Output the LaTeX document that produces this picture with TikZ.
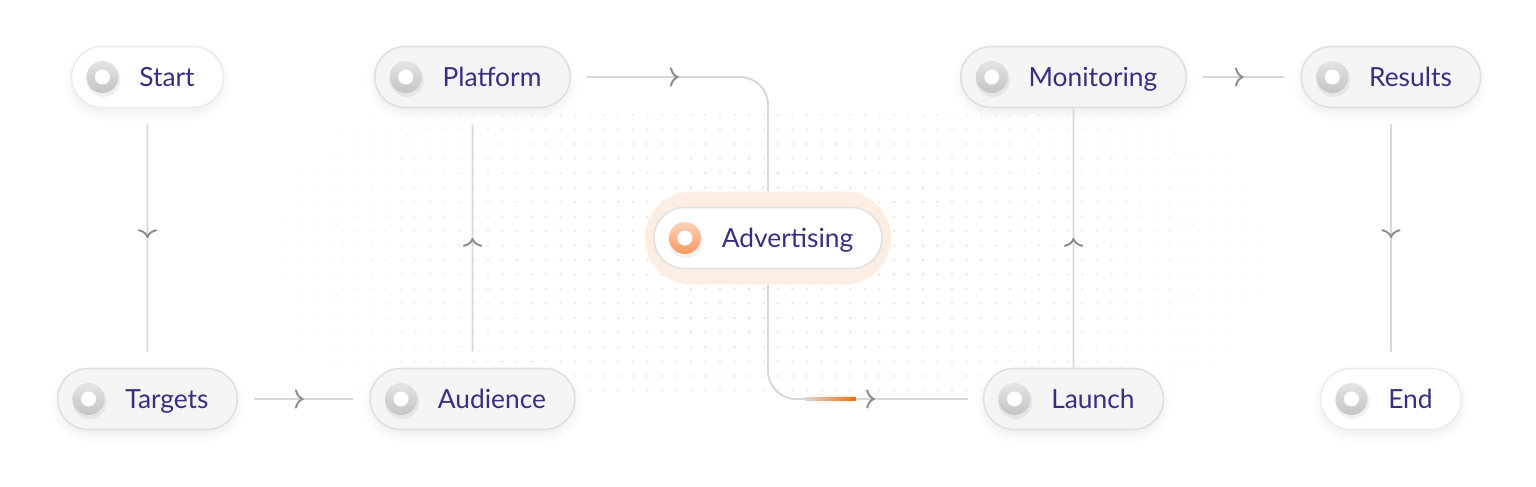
\documentclass[tikz,border=0pt]{standalone}
\usepackage{fontspec}
\setmainfont{Lato}
\usetikzlibrary{shapes.misc,shadows.blur,decorations.markings,arrows.meta}

\definecolor{ink}{HTML}{3B2D83}
\definecolor{pillfill}{HTML}{F5F5F5}
\definecolor{pillline}{HTML}{E0E0E0}
\definecolor{linegray}{HTML}{D8D8D8}
\definecolor{tipgray}{HTML}{8C8C8C}
\definecolor{dotgray}{HTML}{D4D4D4}
\definecolor{icongray}{HTML}{C4C4C4}
\definecolor{peach}{HTML}{FDEEE3}
\definecolor{orng}{HTML}{F79A5E}

\tikzset{
  soft/.style={blur shadow={shadow xshift=0pt, shadow yshift=-3pt, shadow opacity=7, shadow blur radius=5pt}},
  stage/.style={rounded rectangle, draw=pillline, fill=pillfill, line width=0.9pt,
    minimum height=1.22cm, inner xsep=0.54cm, text=ink, font=\fontsize{15}{18}\selectfont,
    text height=0.4cm, text depth=0.02cm, soft,
    execute at begin node=\hspace*{0.78cm},
    path picture={
      \fill[black, opacity=0.06] ([xshift=0.64cm,yshift=-0.06cm]path picture bounding box.west) circle (0.34cm);
      \shade[top color=#1!45, bottom color=#1] ([xshift=0.62cm]path picture bounding box.west) circle (0.32cm);
      \fill[white] ([xshift=0.62cm]path picture bounding box.west) circle (0.15cm);
    }},
  stage/.default=icongray,
  lite/.style={fill=white, draw=pillline!60},
  flow/.style={draw=linegray, line width=1.1pt, postaction={decorate},
    decoration={markings, mark=at position #1 with {\arrow[tipgray, line width=1.1pt]{Computer Modern Rightarrow[length=5pt, width=11pt]}}}},
  flow/.default=0.5,
  gap/.style={shorten <=0.32cm, shorten >=0.32cm}
}

\begin{document}
\begin{tikzpicture}[x=0.02cm, y=-0.02cm]
  \useasboundingbox (0,0) rectangle (1536,487);

  % dotted backdrop
  \foreach \i in {0,...,71} \foreach \j in {0,...,19} {
    \pgfmathsetmacro\dx{(256+14.5*\i-770)/520}
    \pgfmathsetmacro\dy{(115+14.5*\j-255)/170}
    \pgfmathsetmacro\rr{\dx*\dx+0.4*\dy*\dy}
    \ifdim\rr pt<1pt
      \pgfmathsetmacro\op{0.65*(1-\rr)}
      \fill[dotgray, opacity=\op] (256+14.5*\i,115+14.5*\j) circle (1.4);
    \fi
  }

  % top row
  \node[stage, lite] (start) at (147.5,77) {Start};
  \node[stage] (plat) at (472.5,77) {Platform};
  \node[stage] (mon) at (1073.5,77) {Monitoring};
  \node[stage] (res) at (1391,77) {Results};

  % bottom row
  \node[stage] (targ) at (147.5,399) {Targets};
  \node[stage] (aud) at (472.5,399) {Audience};
  \node[stage] (laun) at (1073.5,399) {Launch};
  \node[stage, lite] (end) at (1391,399) {End};

  % the highlighted one
  \node[rounded rectangle, fill=peach, minimum width=5.16cm, minimum height=1.86cm] (advglow) at (768,238) {};
  \node[soft/.style={}, stage=orng, fill=white, draw=pillline] (adv) at (768,238) {Advertising};

  % connectors
  \draw[flow, gap] (start) -- (targ);
  \draw[flow, gap] (targ) -- (aud);
  \draw[flow, gap] (aud) -- (plat);
  \draw[flow=0.36, rounded corners=0.56cm, shorten <=0.32cm] (plat.east) -| (advglow.north);
  \draw[flow=0.66, rounded corners=0.56cm, shorten >=0.3cm] (advglow.south) |- (laun.west);
  \draw[flow] (laun) -- (mon);
  \draw[flow, gap] (mon) -- (res);
  \draw[flow, gap] (res) -- (end);

  % orange spark on the last leg
  \draw[orange, line width=6pt, opacity=0.06] (815,399) -- (855,399);
  \shade[left color=linegray, right color=orange!85!red] (805,397.9) rectangle (856,400.3);
\end{tikzpicture}
\end{document}
